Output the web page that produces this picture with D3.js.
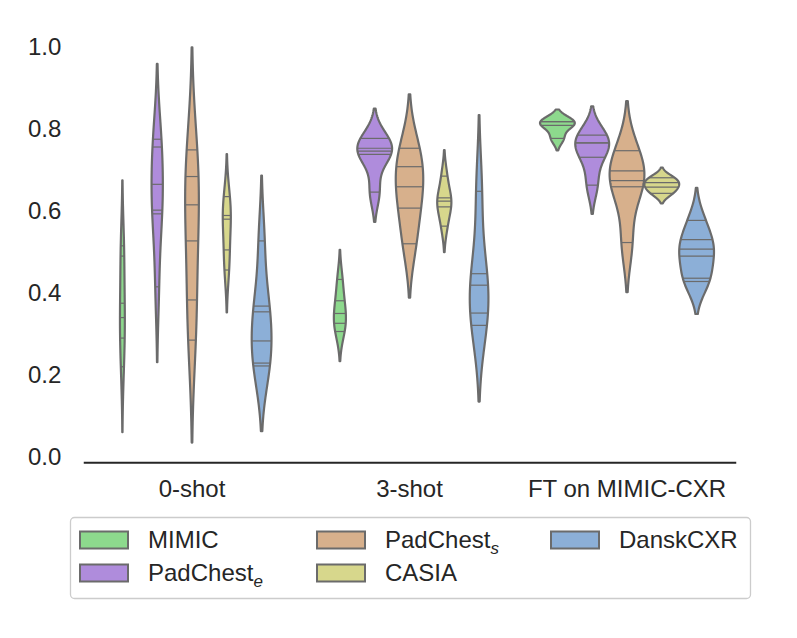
<!DOCTYPE html>
<html><head><meta charset="utf-8">
<script src="https://cdn.jsdelivr.net/npm/d3@7"></script>
<style>body{margin:0;background:#fff} svg{display:block}</style>
</head><body>
<script>
// ---- data ----
const groups = ["0-shot", "3-shot", "FT on MIMIC-CXR"];
const hues = ["MIMIC", "PadChest_e", "PadChest_s", "CASIA", "DanskCXR"];
const yTicks = [0.0, 0.2, 0.4, 0.6, 0.8, 1.0];
// observations (one array per group: 0-shot, 3-shot, FT)
const mimic     = [[0.22, 0.29, 0.34, 0.375, 0.49, 0.515], [0.306, 0.326, 0.35, 0.381, 0.433], [0.777, 0.809, 0.818, 0.818]];
const padchestE = [[0.415, 0.593, 0.602, 0.665, 0.756, 0.775], [0.646, 0.738, 0.746, 0.753, 0.777], [0.663, 0.731, 0.766, 0.766, 0.785]];
const padchestS = [[0.285, 0.383, 0.527, 0.615, 0.684, 0.749], [0.52, 0.607, 0.659, 0.708, 0.753], [0.523, 0.659, 0.674, 0.698, 0.747]];
const casia     = [[0.456, 0.505, 0.58, 0.589, 0.635], [0.563, 0.61, 0.624, 0.632, 0.685], [0.643, 0.658, 0.669, 0.681]];
const dansk     = [[0.222, 0.229, 0.283, 0.354, 0.368, 0.527], [0.321, 0.351, 0.419, 0.447, 0.648], [0.428, 0.436, 0.49, 0.507, 0.53, 0.577]];
const colors = ["#8dd98d", "#af8cdc", "#d7b08c", "#d7d78c", "#8cafd7"];

const series = [mimic, padchestE, padchestS, casia, dansk];

// ---- layout ----
const W = 797, H = 638;
const svg = d3.select("body").append("svg").attr("width", W).attr("height", H)
  .style("font-family", "'Liberation Sans', Arial, sans-serif");

const x = d3.scaleBand().domain(groups).range([83.25, 735.75]).paddingInner(0).paddingOuter(0);
const xh = d3.scaleBand().domain(hues).range([-0.4 * x.bandwidth(), 0.4 * x.bandwidth()]);
const y = d3.scaleLinear().domain([-0.013, 1.048]).range([462.3, 27.3]);

// ---- KDE (gaussian, scott, cut=2) ----
function kde(obs) {
  const n = obs.length, sd = d3.deviation(obs);
  const bw = sd * Math.pow(n, -0.2);
  const lo = d3.min(obs) - 2 * bw, hi = d3.max(obs) + 2 * bw;
  const f = v => d3.sum(obs, o => Math.exp(-0.5 * ((v - o) / bw) ** 2)) / (n * bw * Math.sqrt(2 * Math.PI));
  const grid = d3.range(100).map(i => lo + (hi - lo) * i / 99);
  return { pts: grid.map(v => [v, f(v)]), f, obs };
}

const kdes = series.map(s => s.map(kde));
const lineColor = "#6b6b6b";

// ---- violins ----
const gPlot = svg.append("g");
groups.forEach((g, gi) => {
  hues.forEach((h, hi) => {
    const k = kdes[hi][gi];
    const maxD = d3.max(kdes[hi], kk => d3.max(kk.pts, p => p[1]));
    const w = d3.scaleLinear().domain([0, maxD]).range([0, xh.bandwidth() / 2]);
    const cx = x(g) + x.bandwidth() / 2 + xh(h) + xh.bandwidth() / 2;
    const area = d3.area().y(p => y(p[0])).x0(p => cx - w(p[1])).x1(p => cx + w(p[1]));
    gPlot.append("path").attr("d", area(k.pts) + "Z")
      .attr("fill", colors[hi]).attr("stroke", lineColor).attr("stroke-width", 2.2)
      .attr("stroke-linejoin", "round");
    k.obs.forEach(o => {
      const hw = w(k.f(o));
      gPlot.append("line").attr("x1", cx - hw).attr("x2", cx + hw)
        .attr("y1", y(o)).attr("y2", y(o))
        .attr("stroke", lineColor).attr("stroke-width", 1.2);
    });
  });
});

// ---- axes ----
const textColor = "#262626";
const yAxis = svg.append("g").attr("transform", "translate(83.25,0)")
  .call(d3.axisLeft(y).tickValues(yTicks).tickFormat(d3.format(".1f")).tickSize(0).tickPadding(22));
yAxis.select(".domain").remove();
yAxis.selectAll("text").attr("fill", textColor).style("font-size", "24px")
  .style("font-family", "'Liberation Sans', Arial, sans-serif");

const xAxis = svg.append("g").attr("transform", "translate(0,462.3)")
  .call(d3.axisBottom(x).tickSize(0).tickPadding(18));
xAxis.select(".domain").attr("stroke", textColor).attr("stroke-width", 2);
xAxis.selectAll("text").attr("fill", textColor).style("font-size", "24px")
  .style("font-family", "'Liberation Sans', Arial, sans-serif");

// ---- legend ----
const leg = svg.append("g");
leg.append("rect").attr("x", 70.5).attr("y", 517.5).attr("width", 680).attr("height", 81)
  .attr("rx", 4).attr("fill", "#fff").attr("stroke", "#cccccc").attr("stroke-width", 1.3);
const colX = [80, 317, 551], rowY = [540, 573];
const legendPos = [[0, 0], [0, 1], [1, 0], [1, 1], [2, 0]];
hues.forEach((h, i) => {
  const [c, r] = legendPos[i];
  leg.append("rect").attr("x", colX[c]).attr("y", rowY[r] - 8.5).attr("width", 48).attr("height", 17)
    .attr("fill", colors[i]).attr("stroke", lineColor).attr("stroke-width", 2);
  const t = leg.append("text").attr("x", colX[c] + 68).attr("y", rowY[r]).attr("dy", "0.35em")
    .attr("fill", textColor).style("font-size", "24px");
  const parts = h.split("_");
  t.append("tspan").text(parts[0]);
  if (parts[1]) t.append("tspan").text(parts[1]).attr("font-style", "italic")
    .attr("font-size", "17px").attr("dy", "0.3em");
});
</script>
</body></html>
